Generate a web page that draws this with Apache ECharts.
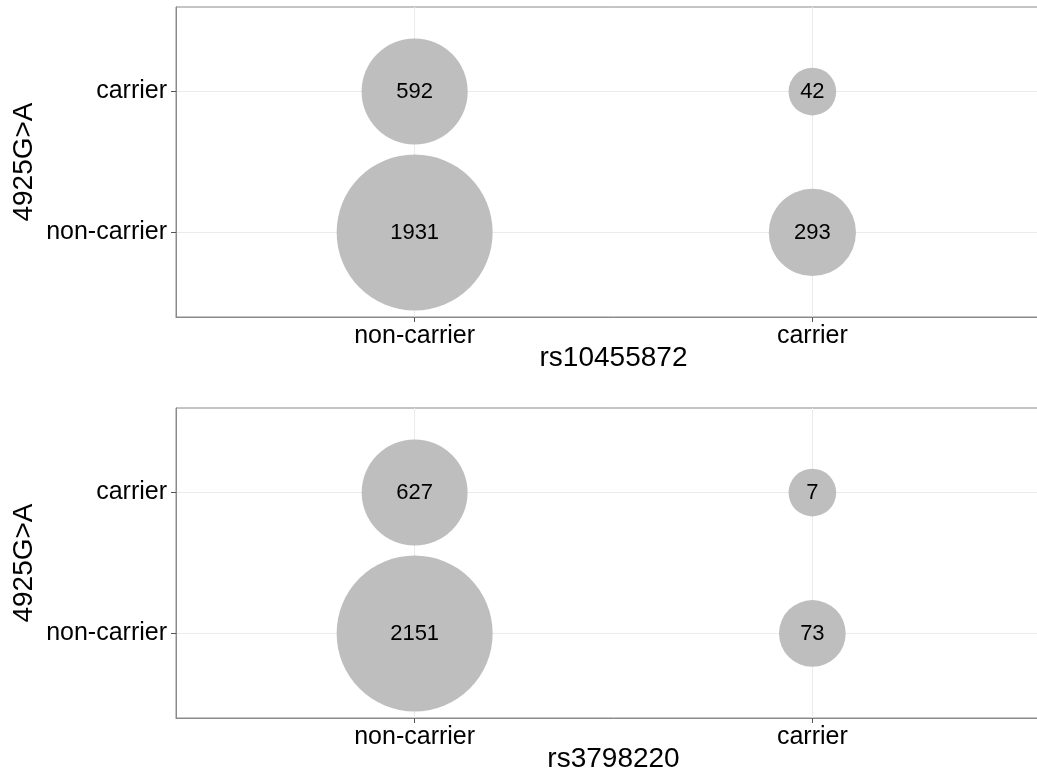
<!DOCTYPE html>
<html>
<head>
<meta charset="utf-8">
<script src="https://cdn.jsdelivr.net/npm/echarts@6/dist/echarts.min.js"></script>
<style>
  html, body { margin: 0; padding: 0; background: #ffffff; overflow: hidden; }
  /* the panels run past the right edge of the page */
  #chart { width: 1060px; height: 780px; }
</style>
</head>
<body>
<div id="chart"></div>
<script>
// Genotype levels used on both axes (index 0 = non-carrier, 1 = carrier)
const genotypeLevels = ['non-carrier', 'carrier'];
const levelIndex = [0, 1];
const yAxisTitle = '4925G>A';
const snpNames = ['rs10455872', 'rs3798220'];

// Counts per cell: [SNP genotype index, 4925G>A genotype index, count]
const countsRs10455872 = [[0, 1, 592], [0, 0, 1931], [1, 1, 42], [1, 0, 293]];
const countsRs3798220 = [[0, 1, 627], [0, 0, 2151], [1, 1, 7], [1, 0, 73]];
const panels = [countsRs10455872, countsRs3798220];

// Bubble area scale: diameter grows with sqrt of the rescaled count
const SIZE_MIN = 47.7;
const SIZE_MAX = 156;
function sizeScale(rows) {
  const vals = rows.map(r => r[2]);
  const lo = Math.min.apply(null, vals);
  const hi = Math.max.apply(null, vals);
  return function (d) {
    const t = hi === lo ? 1 : (d[2] - lo) / (hi - lo);
    return SIZE_MIN + (SIZE_MAX - SIZE_MIN) * Math.sqrt(t);
  };
}

const FONT = 'Liberation Sans, Arial, Helvetica, sans-serif';
const panelTops = [7, 408];
const PANEL_H = 310;

const grids = panelTops.map(t => ({
  left: 176, width: 875, top: t, height: PANEL_H,
  show: true, borderColor: '#8a8a8a', borderWidth: 1, backgroundColor: '#ffffff'
}));

function discreteAxis(extra) {
  return Object.assign({
    type: 'value', min: -0.6, max: 1.6,
    nameMoveOverlap: false,
    axisLine: { show: true, onZero: false, lineStyle: { color: '#8a8a8a', width: 1 } },
    axisTick: { show: true, length: 5, customValues: levelIndex, lineStyle: { color: '#555555', width: 1 } },
    axisLabel: {
      customValues: levelIndex, color: '#000000', fontFamily: FONT, fontSize: 25,
      formatter: v => genotypeLevels[Math.round(v)]
    },
    splitLine: { show: true, lineStyle: { color: '#ebebeb', width: 1 } },
    nameTextStyle: { color: '#000000', fontFamily: FONT, fontSize: 28 }
  }, extra);
}

const xAxes = snpNames.map((name, i) => discreteAxis({
  gridIndex: i, name: name, nameLocation: 'middle', nameGap: 27,
  axisLabel: Object.assign(discreteAxis({}).axisLabel, { margin: 7 })
}));
const yAxes = snpNames.map((name, i) => discreteAxis({
  gridIndex: i, name: yAxisTitle, nameLocation: 'middle', nameGap: 138,
  axisLabel: Object.assign(discreteAxis({}).axisLabel, { margin: 9 })
}));

const series = panels.map((rows, i) => ({
  type: 'scatter',
  xAxisIndex: i, yAxisIndex: i,
  data: rows,
  symbol: 'circle',
  symbolSize: sizeScale(rows),
  itemStyle: { color: '#bebebe', opacity: 1 },
  label: {
    show: true, position: 'inside', color: '#000000',
    fontFamily: FONT, fontSize: 22,
    formatter: p => String(p.data[2])
  },
  emphasis: { disabled: true },
  silent: true
}));

const chart = echarts.init(document.getElementById('chart'), null, { renderer: 'canvas' });
chart.setOption({
  animation: false,
  backgroundColor: '#ffffff',
  grid: grids,
  xAxis: xAxes,
  yAxis: yAxes,
  series: series
});
</script>
</body>
</html>
